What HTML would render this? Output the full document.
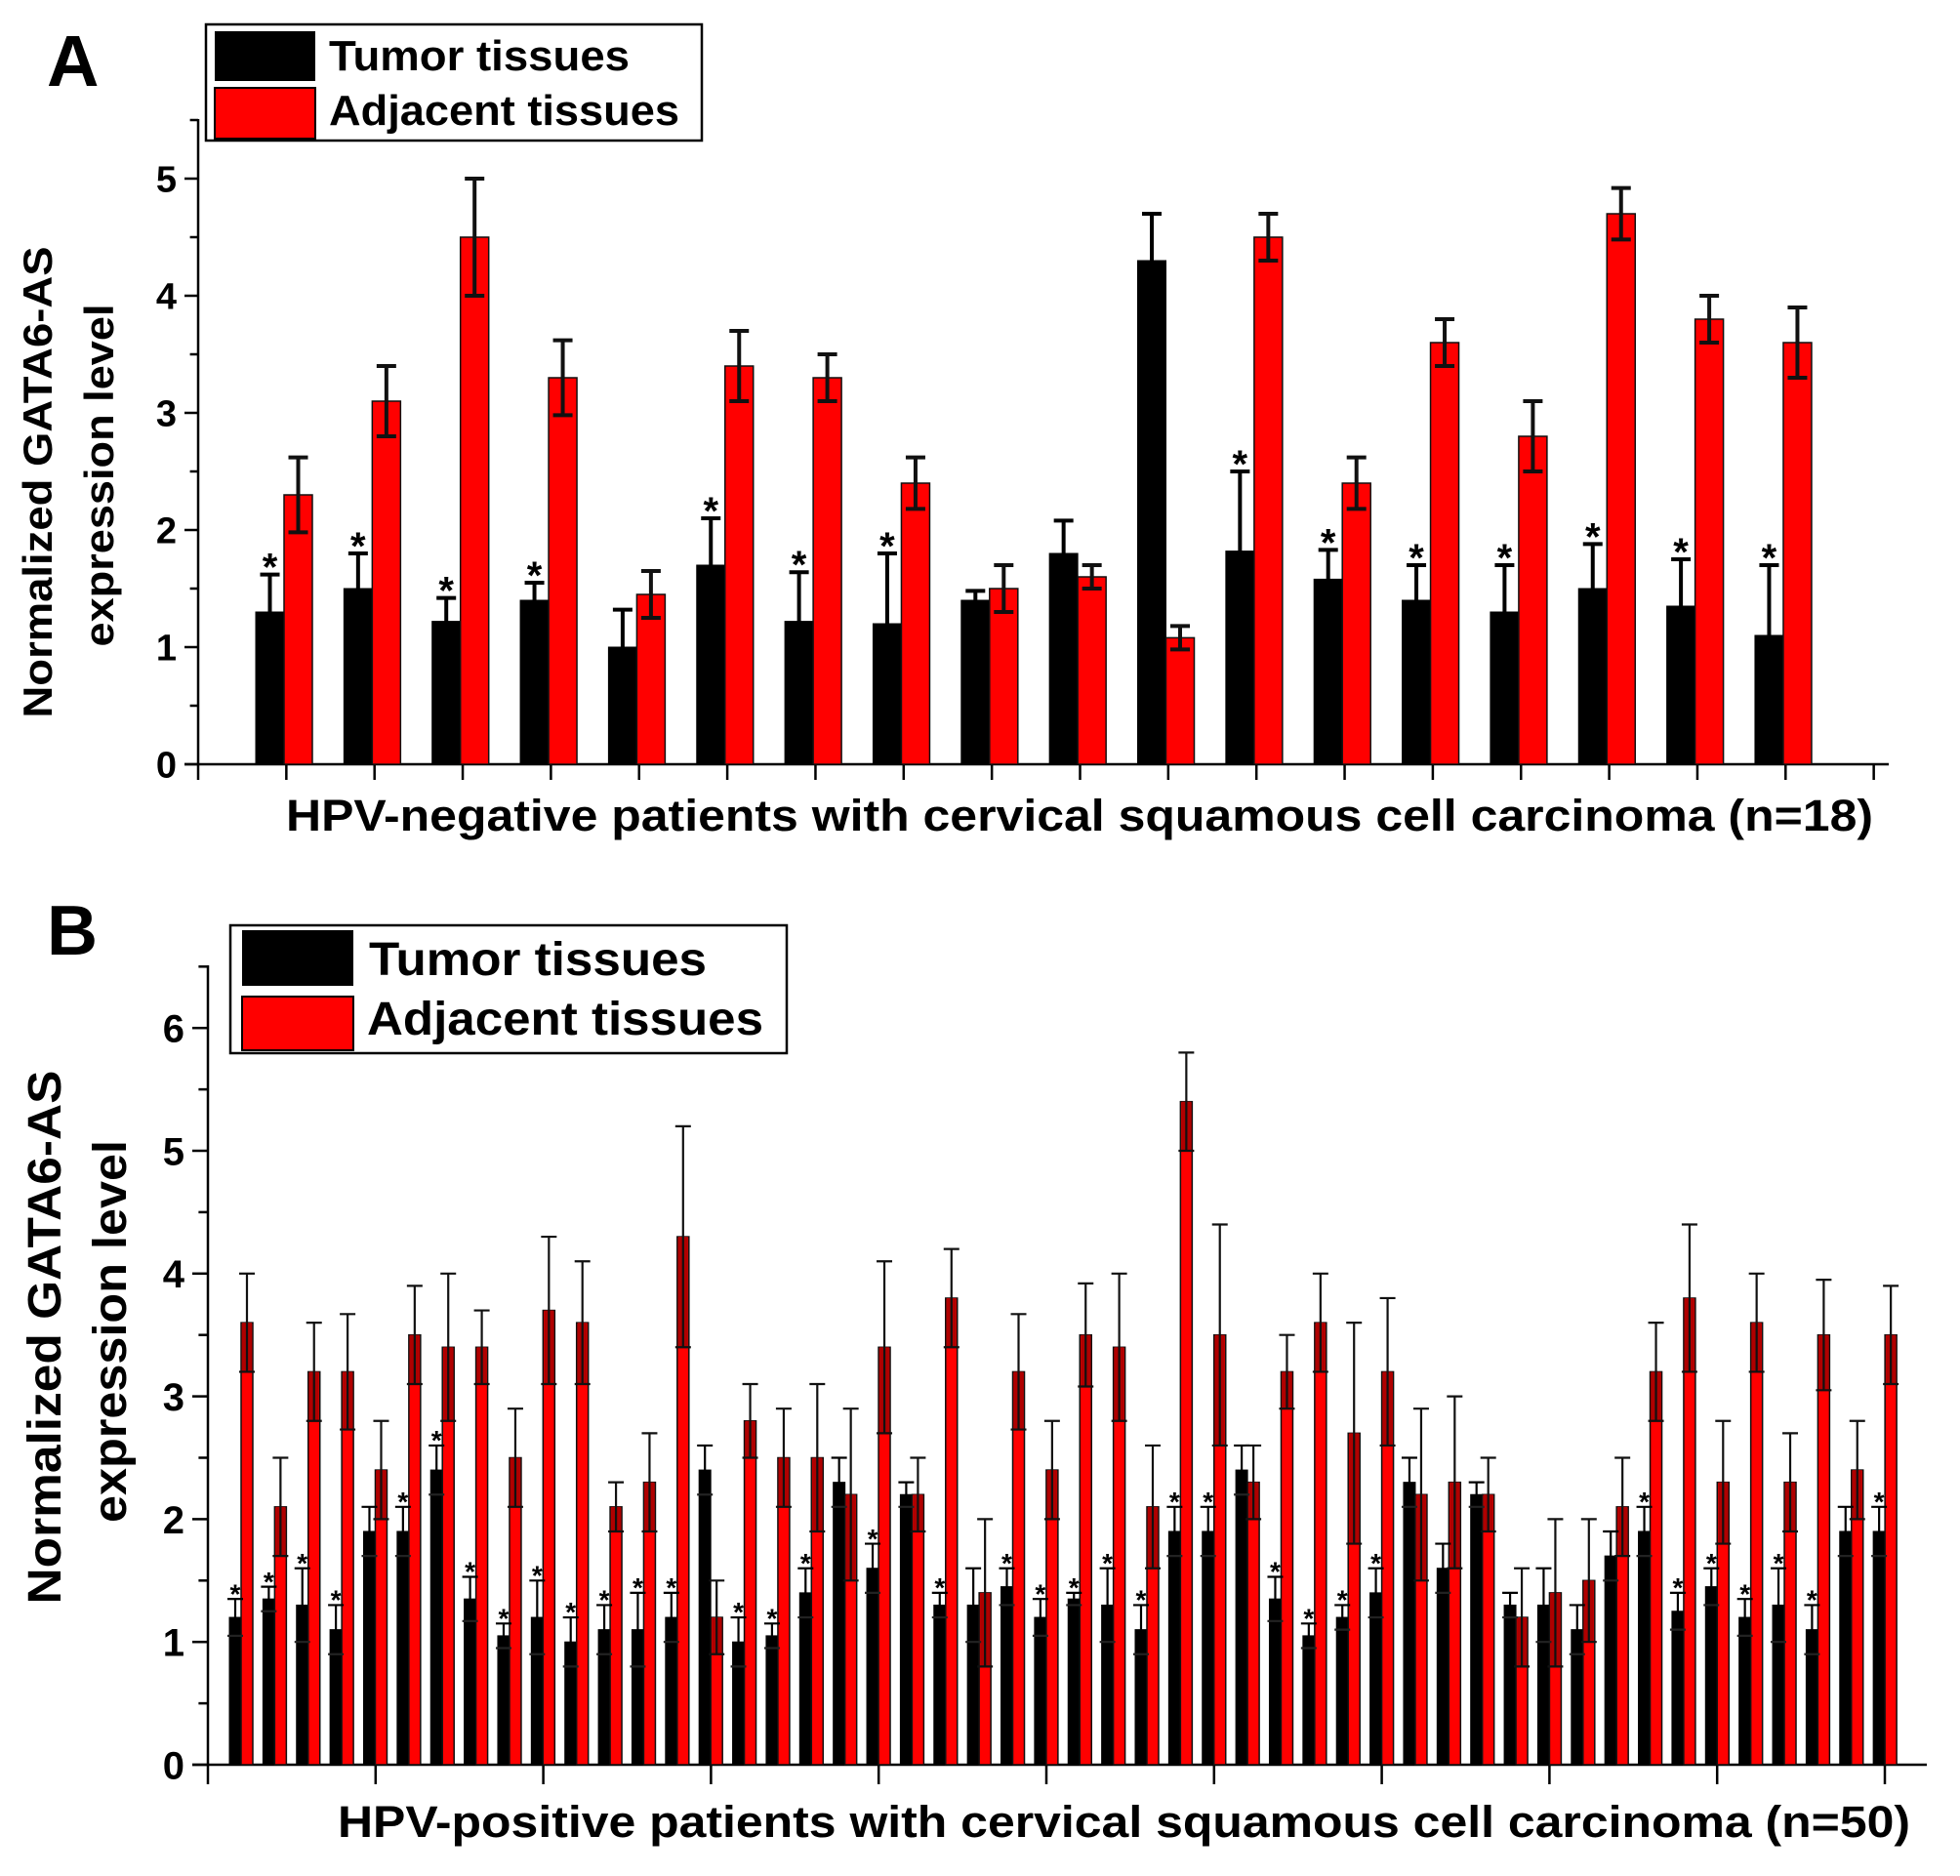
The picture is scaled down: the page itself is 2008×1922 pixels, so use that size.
<!DOCTYPE html>
<html><head><meta charset="utf-8"><style>
html,body{margin:0;padding:0;background:#fff;}
svg{display:block;font-family:"Liberation Sans",Arial,sans-serif;font-weight:bold;}
</style></head><body>
<svg id="fig" width="2008" height="1922" viewBox="0 0 2008 1922" xmlns="http://www.w3.org/2000/svg">
<rect x="0" y="0" width="2008" height="1922" fill="#fff"/>
<g id="panelA"></g>
<g id="panelB"></g>
</svg>
<script>
// Panel A data
const catsA = ["1","2","3","4","5","6","7","8","9","10","11","12","13","14","15","16","17","18"];
const tumorA = [1.3,1.5,1.22,1.4,1.0,1.7,1.22,1.2,1.4,1.8,4.3,1.82,1.58,1.4,1.3,1.5,1.35,1.1];
const tumorErrA = [0.32,0.3,0.2,0.15,0.32,0.4,0.42,0.6,0.08,0.28,0.4,0.68,0.25,0.3,0.4,0.38,0.4,0.6];
const adjA = [2.3,3.1,4.5,3.3,1.45,3.4,3.3,2.4,1.5,1.6,1.08,4.5,2.4,3.6,2.8,4.7,3.8,3.6];
const adjErrA = [0.32,0.3,0.5,0.32,0.2,0.3,0.2,0.22,0.2,0.1,0.1,0.2,0.22,0.2,0.3,0.22,0.2,0.3];
const starA = [1,1,1,1,0,1,1,1,0,0,0,1,1,1,1,1,1,1];
const yTicksA = ["0","1","2","3","4","5"];
// Panel B data
const tumorB = [1.2,1.35,1.3,1.1,1.9,1.9,2.4,1.35,1.05,1.2,1.0,1.1,1.1,1.2,2.4,1.0,1.05,1.4,2.3,1.6,2.2,1.3,1.3,1.45,1.2,1.35,1.3,1.1,1.9,1.9,2.4,1.35,1.05,1.2,1.4,2.3,1.6,2.2,1.3,1.3,1.1,1.7,1.9,1.25,1.45,1.2,1.3,1.1,1.9,1.9];
const tumorErrB = [0.15,0.1,0.3,0.2,0.2,0.2,0.2,0.18,0.1,0.3,0.2,0.2,0.3,0.2,0.2,0.2,0.1,0.2,0.2,0.2,0.1,0.1,0.3,0.15,0.15,0.05,0.3,0.2,0.2,0.2,0.2,0.18,0.1,0.1,0.2,0.2,0.2,0.1,0.1,0.3,0.2,0.2,0.2,0.15,0.15,0.15,0.3,0.2,0.2,0.2];
const adjB = [3.6,2.1,3.2,3.2,2.4,3.5,3.4,3.4,2.5,3.7,3.6,2.1,2.3,4.3,1.2,2.8,2.5,2.5,2.2,3.4,2.2,3.8,1.4,3.2,2.4,3.5,3.4,2.1,5.4,3.5,2.3,3.2,3.6,2.7,3.2,2.2,2.3,2.2,1.2,1.4,1.5,2.1,3.2,3.8,2.3,3.6,2.3,3.5,2.4,3.5];
const adjErrB = [0.4,0.4,0.4,0.47,0.4,0.4,0.6,0.3,0.4,0.6,0.5,0.2,0.4,0.9,0.3,0.3,0.4,0.6,0.7,0.7,0.3,0.4,0.6,0.47,0.4,0.42,0.6,0.5,0.4,0.9,0.3,0.3,0.4,0.9,0.6,0.7,0.7,0.3,0.4,0.6,0.5,0.4,0.4,0.6,0.5,0.4,0.4,0.45,0.4,0.4];
const starB = [1,1,1,1,0,1,1,1,1,1,1,1,1,1,0,1,1,1,0,1,0,1,0,1,1,1,1,1,1,1,0,1,1,1,1,0,0,0,0,0,0,0,1,1,1,1,1,1,0,1];
const yTicksB = ["0","1","2","3","4","5","6"];

const NS="http://www.w3.org/2000/svg";
function mk(parent,tag,attrs,text){const e=document.createElementNS(NS,tag);for(const k in attrs)e.setAttribute(k,attrs[k]);if(text!==undefined)e.textContent=text;parent.appendChild(e);return e;}

function drawPanel(g,cfg){
  const y=v=>cfg.y0-v*cfg.unit;
  const x=i=>cfg.c0+cfg.step*i;
  // axes
  let ax=mk(g,'line',{x1:cfg.ax,y1:cfg.axTop,x2:cfg.ax,y2:cfg.y0,stroke:'#000','stroke-width':2.5});
  
  
  let xx=mk(g,'line',{x1:cfg.ax-cfg.tl,y1:cfg.y0,x2:cfg.axEnd,y2:cfg.y0,stroke:'#000','stroke-width':2.5});
  
  
  const tlab=cfg.yTicks;
  for(let k=0;k<tlab.length;k++){
    mk(g,'line',{x1:cfg.ax-cfg.tl,y1:y(+tlab[k]),x2:cfg.ax,y2:y(+tlab[k]),stroke:'#000','stroke-width':2.5});
    if(+tlab[k]+0.5<=cfg.maxMinor) mk(g,'line',{x1:cfg.ax-cfg.tl*0.6,y1:y(+tlab[k]+0.5),x2:cfg.ax,y2:y(+tlab[k]+0.5),stroke:'#000','stroke-width':2.5});
    const t=mk(g,'text',{x:cfg.ax-cfg.tl-8,y:y(+tlab[k])+cfg.tfs*0.36,'font-size':cfg.tfs,'text-anchor':'end'},tlab[k]);
    
    
  }
  // x ticks
  for(let p=cfg.ax, k=0;p<=cfg.axEnd+1;p+=cfg.xtStep,k++){
    mk(g,'line',{x1:p,y1:cfg.y0,x2:p,y2:cfg.y0+cfg.xtl,stroke:'#000','stroke-width':2.5});
  }
  const n=cfg.tumor.length, bw=cfg.bw;
  for(let i=0;i<n;i++){
    const c=x(i);
    // tumor bar
    const tb=mk(g,'rect',{x:c-bw,y:y(cfg.tumor[i]),width:bw,height:cfg.y0-y(cfg.tumor[i]),fill:'#000',stroke:'#000','stroke-width':1});
    
    
    const ab=mk(g,'rect',{x:c,y:y(cfg.adj[i]),width:bw,height:cfg.y0-y(cfg.adj[i]),fill:'#ff0000',stroke:'#111','stroke-width':cfg.bs});
    
    
    // error bars
    const cw=cfg.cw, ew=cfg.ew;
    const tc=c-bw/2, rc=c+bw/2;
    const te=cfg.tErr[i], re=cfg.aErr[i];
    if(cfg.dark) mk(g,'rect',{x:c+1,y:y(cfg.adj[i]),width:bw-2,height:y(cfg.adj[i]-re)-y(cfg.adj[i]),fill:'#b00000'});
    mk(g,'line',{x1:tc,y1:y(cfg.tumor[i]+te),x2:tc,y2:y(cfg.tumor[i]-(cfg.full?te:0)),stroke:'#000','stroke-width':ew});
    mk(g,'line',{x1:tc-cw/2,y1:y(cfg.tumor[i]+te),x2:tc+cw/2,y2:y(cfg.tumor[i]+te),stroke:'#000','stroke-width':ew});
    if(cfg.full) mk(g,'line',{x1:tc-cw/2,y1:y(cfg.tumor[i]-te),x2:tc+cw/2,y2:y(cfg.tumor[i]-te),stroke:'#222','stroke-width':ew});
    const eb=mk(g,'line',{x1:rc,y1:y(cfg.adj[i]+re),x2:rc,y2:y(cfg.adj[i]-re),stroke:'#111','stroke-width':ew});
    
    
    mk(g,'line',{x1:rc-cw/2,y1:y(cfg.adj[i]+re),x2:rc+cw/2,y2:y(cfg.adj[i]+re),stroke:'#111','stroke-width':ew});
    mk(g,'line',{x1:rc-cw/2,y1:y(cfg.adj[i]-re),x2:rc+cw/2,y2:y(cfg.adj[i]-re),stroke:'#111','stroke-width':ew});
    if(cfg.star[i]){
      const s=mk(g,'text',{x:tc,y:y(cfg.tumor[i]+te)+cfg.sfs*0.15,'font-size':cfg.sfs,'text-anchor':'middle'},'*');
      
      
    }
  }
}

const gA=document.getElementById('panelA');
drawPanel(gA,{y0:783,unit:120,c0:291,step:90.35,ax:203,axTop:122,axEnd:1935,tl:14,xtl:16,xtStep:90.35,
  yTicks:yTicksA,maxMinor:5.5,tfs:38,tumor:tumorA,tErr:tumorErrA,adj:adjA,aErr:adjErrA,star:starA,
  bw:29,bs:1.5,cw:20,ew:4,full:false,dark:false,sfs:40});
const gB=document.getElementById('panelB');
drawPanel(gB,{y0:1808,unit:125.8,c0:247,step:34.37,ax:213,axTop:989,axEnd:1974,tl:16,xtl:20,xtStep:171.8,
  yTicks:yTicksB,maxMinor:6.5,tfs:40,tumor:tumorB,tErr:tumorErrB,adj:adjB,aErr:adjErrB,star:starB,
  bw:12,bs:1.5,cw:16,ew:2.2,full:true,dark:true,sfs:28});
</script>
<svg style="position:absolute;left:0;top:0" width="2008" height="1922" viewBox="0 0 2008 1922" xmlns="http://www.w3.org/2000/svg">
<g style="font-family:'Liberation Sans',Arial,sans-serif;font-weight:bold">
<text x="48" y="88" font-size="74">A</text>
<text x="48" y="978" font-size="72">B</text>
<g>
<rect x="211" y="25" width="508" height="119" fill="#fff" stroke="#000" stroke-width="2.5"/>
<rect x="220" y="32" width="103" height="51" fill="#000"/>
<rect x="220" y="90" width="103" height="52" fill="#ff0000" stroke="#000" stroke-width="2"/>
<text x="337" y="72" font-size="44" textLength="308" lengthAdjust="spacingAndGlyphs">Tumor tissues</text>
<text x="337" y="128" font-size="44" textLength="359" lengthAdjust="spacingAndGlyphs">Adjacent tissues</text>
</g>
<g>
<rect x="236" y="948" width="570" height="131" fill="#fff" stroke="#000" stroke-width="2.5"/>
<rect x="248" y="953" width="114" height="57" fill="#000"/>
<rect x="248" y="1021" width="114" height="55" fill="#ff0000" stroke="#000" stroke-width="2"/>
<text x="378" y="999" font-size="48" textLength="346" lengthAdjust="spacingAndGlyphs">Tumor tissues</text>
<text x="376" y="1060" font-size="48" textLength="406" lengthAdjust="spacingAndGlyphs">Adjacent tissues</text>
</g>
<text transform="translate(53,494) rotate(-90)" font-size="42" text-anchor="middle" textLength="483" lengthAdjust="spacingAndGlyphs">Normalized GATA6-AS</text>
<text transform="translate(116,487) rotate(-90)" font-size="42" text-anchor="middle" textLength="351" lengthAdjust="spacingAndGlyphs">expression level</text>
<text x="293" y="851" font-size="45" textLength="1626" lengthAdjust="spacingAndGlyphs">HPV-negative patients with cervical squamous cell carcinoma (n=18)</text>
<text transform="translate(62,1370) rotate(-90)" font-size="48" text-anchor="middle" textLength="547" lengthAdjust="spacingAndGlyphs">Normalized GATA6-AS</text>
<text transform="translate(129,1364) rotate(-90)" font-size="48" text-anchor="middle" textLength="392" lengthAdjust="spacingAndGlyphs">expression level</text>
<text x="346" y="1882" font-size="45" textLength="1611" lengthAdjust="spacingAndGlyphs">HPV-positive patients with cervical squamous cell carcinoma (n=50)</text>
</g>
</svg>
</body></html>
